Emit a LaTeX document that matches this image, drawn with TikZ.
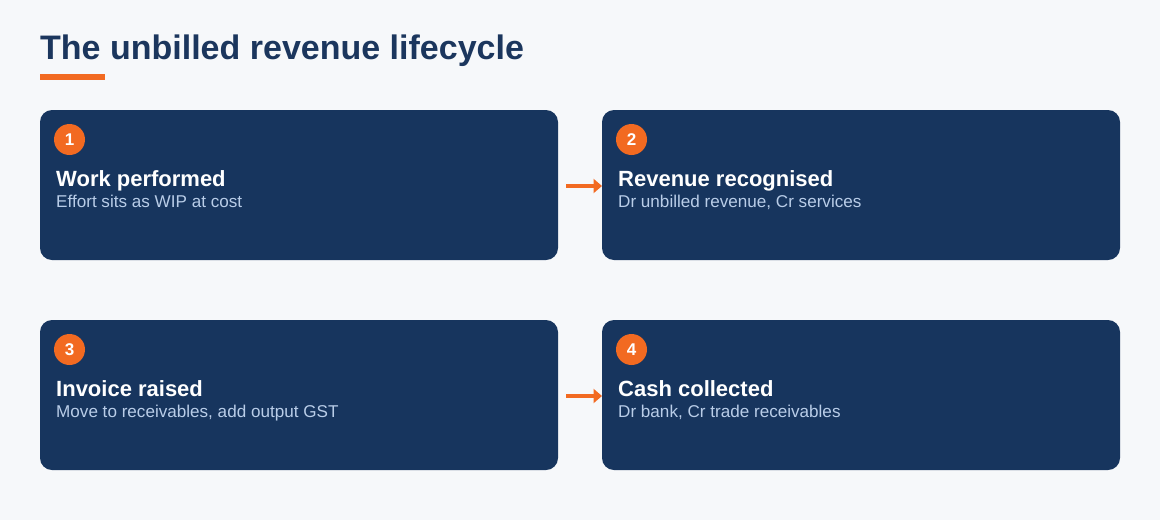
\documentclass[tikz,border=0pt]{standalone}
\usepackage{fontspec}
\setmainfont{Liberation Sans}
\usetikzlibrary{arrows.meta}
\definecolor{bg}{HTML}{F6F8FA}
\definecolor{navy}{HTML}{1B365D}
\definecolor{card}{HTML}{17355E}
\definecolor{accent}{HTML}{F26A21}
\definecolor{sub}{HTML}{B9CDE8}
\tikzset{
  card/.style={fill=card, rounded corners=12pt, draw=none},
  badge/.style={circle, fill=accent, minimum size=31pt, inner sep=0pt, text=white, font=\fontsize{17}{20}\selectfont\bfseries},
  head/.style={anchor=base west, inner sep=0pt, text=white, font=\fontsize{22}{26}\selectfont\bfseries},
  subt/.style={anchor=base west, inner sep=0pt, text=sub, font=\fontsize{17.1}{20}\selectfont},
  flow/.style={draw=accent, line width=3.2pt, -{Triangle[length=8.5pt,width=14pt]}}
}
\begin{document}
\begin{tikzpicture}[x=1pt,y=-1pt]
\fill[bg] (0,0) rectangle (1160,520);
\useasboundingbox (0,0) rectangle (1160,520);
\node[anchor=base west, inner sep=0pt, text=navy, font=\fontsize{34}{40}\selectfont\bfseries] (title) at (40,59.5) {The unbilled revenue lifecycle};
\fill[accent] (40,74) rectangle (105,80);
% cards
\path[card] (40,110) rectangle (558,260);
\path[card] (602,110) rectangle (1120,260);
\path[card] (40,320) rectangle (558,470);
\path[card] (602,320) rectangle (1120,470);
% card 1
\node[badge] (b1) at (69.5,139.5) {1};
\node[head] (h1) at (56,186) {Work performed};
\node[subt] (s1) at (56,207) {Effort sits as WIP at cost};
% card 2
\node[badge] (b2) at (631.5,139.5) {2};
\node[head] (h2) at (618,186) {Revenue recognised};
\node[subt] (s2) at (618,207) {Dr unbilled revenue, Cr services};
% card 3
\node[badge] (b3) at (69.5,349.5) {3};
\node[head] (h3) at (56,396) {Invoice raised};
\node[subt] (s3) at (56,417) {Move to receivables, add output GST};
% card 4
\node[badge] (b4) at (631.5,349.5) {4};
\node[head] (h4) at (618,396) {Cash collected};
\node[subt] (s4) at (618,417) {Dr bank, Cr trade receivables};
% arrows
\coordinate (a1s) at (566,186);
\coordinate (a1e) at (602,186);
\coordinate (a2s) at (566,396);
\coordinate (a2e) at (602,396);
\draw[flow] (a1s) -- (a1e);
\draw[flow] (a2s) -- (a2e);
\end{tikzpicture}
\end{document}
